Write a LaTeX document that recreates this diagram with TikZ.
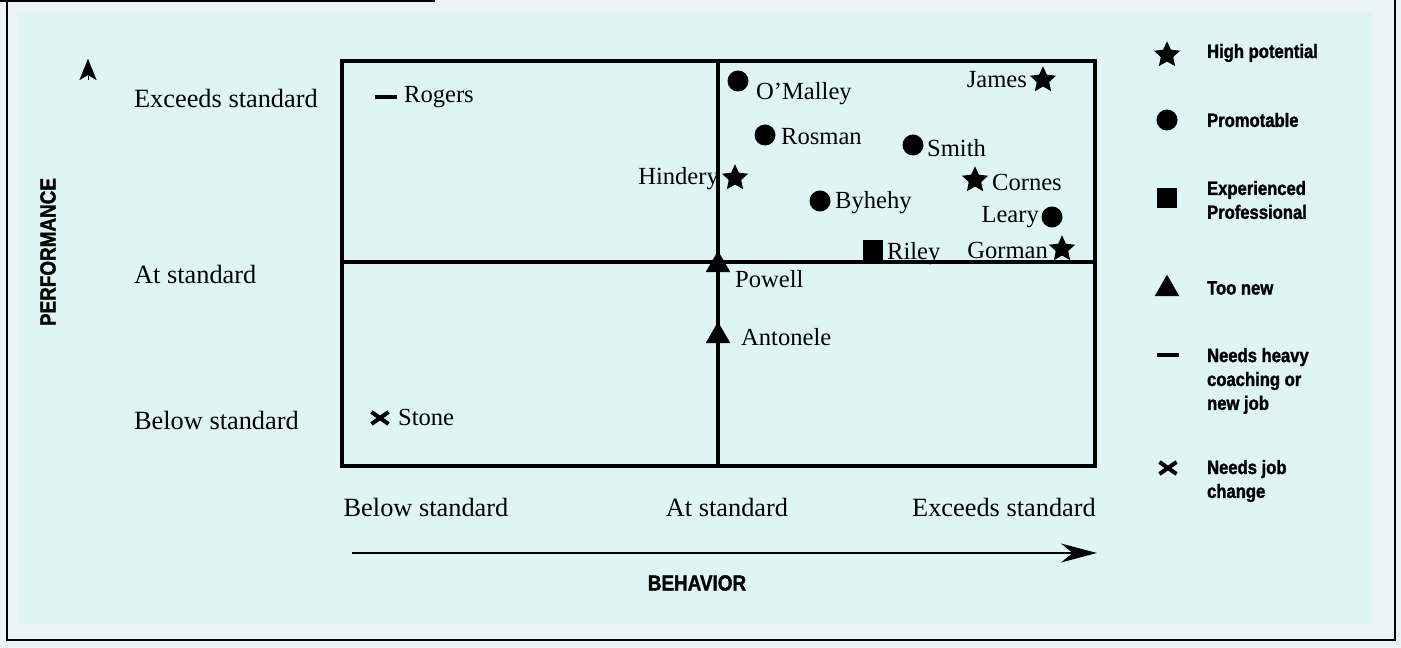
\documentclass[tikz,border=0pt]{standalone}
\usepackage{fontspec}
\setmainfont{Liberation Serif}
\newfontfamily\headfont{Liberation Sans}[FakeStretch=0.86, BoldFeatures={FakeBold=1.5}]
\usetikzlibrary{shapes.geometric,shapes.misc,arrows.meta}

\definecolor{panel}{HTML}{DFF4F4}
\definecolor{strip}{HTML}{EAF4F6}

\tikzset{
  staff/.style={font=\fontsize{14}{16}\selectfont, inner sep=1pt},
  lab/.style={font=\fontsize{15}{18}\selectfont, inner sep=1pt},
  legtext/.style={font=\headfont\bfseries\fontsize{11}{13.6}\selectfont, align=left, inner sep=1pt, anchor=west},
  head/.style={font=\headfont\bfseries\fontsize{12.5}{14}\selectfont, inner sep=1pt},
  hipot/.style={star, star points=5, star point ratio=2.1, fill=black, inner sep=0pt, minimum size=0.55cm},
  promo/.style={circle, fill=black, inner sep=0pt, minimum size=0.42cm},
  expro/.style={rectangle, fill=black, inner sep=0pt, minimum size=0.4cm},
  toonew/.style={regular polygon, regular polygon sides=3, fill=black, inner sep=0pt, minimum size=0.57cm},
  coach/.style={rectangle, fill=black, inner sep=0pt, minimum width=0.45cm, minimum height=0.09cm},
  jobchg/.style={cross out, draw=black, line width=2.3pt, inner sep=0pt, minimum width=0.26cm, minimum height=0.16cm}
}

\begin{document}
\begin{tikzpicture}[x=0.02cm, y=-0.02cm]
      \useasboundingbox (0,0) rectangle (1401,648);
      % page background and frame
      \fill[strip] (0,0) rectangle (1401,648);
      \fill[panel] (17,12) rectangle (1372,625);
      \draw[line width=1.3pt] (0,1) -- (435,1);
      \draw[line width=1.3pt] (7,0) -- (7,640) -- (1395,640) -- (1395,0);
      % the grid
      \draw[line width=2pt] (342,61) rectangle (1095,466);
      \draw[line width=2pt] (342,262) -- (1095,262);
      \draw[line width=2pt] (718,61) -- (718,466);
      % axis labels
      \node[lab, anchor=west] (rowhi) at (132,98) {Exceeds standard};
      \node[lab, anchor=west] (rowat) at (132,274) {At standard};
      \node[lab, anchor=west] (rowlo) at (132,420) {Below standard};
      \node[lab] (collo) at (426,507) {Below standard};
      \node[lab] (colat) at (727,507) {At standard};
      \node[lab] (colhi) at (1004,507) {Exceeds standard};
      \node[head, rotate=90] (perf) at (48,252) {PERFORMANCE};
      \node[head] (behav) at (697,583) {BEHAVIOR};
      % axis arrows
      \coordinate (pbase) at (88,80);
      \coordinate (ptip) at (88,59);
      \draw[-{Stealth[length=0.42cm, width=0.34cm, inset=0.1cm]}, line width=0.1pt] (pbase) -- (ptip);
      \coordinate (bstart) at (352,553);
      \coordinate (bend) at (1097,553);
      \draw[-{Stealth[length=0.72cm, width=0.38cm]}, line width=0.8pt] (bstart) -- (bend);
      % people
      \node[coach] (rogers) at (386,97) {};
      \node[staff, anchor=west] (rogersT) at (402,97) {Rogers};
      \node[promo] (omalley) at (738,81) {};
      \node[staff, anchor=west] (omalleyT) at (754,94) {O’Malley};
      \node[hipot] (james) at (1043,80) {};
      \node[staff, anchor=east] (jamesT) at (1029,80) {James};
      \node[promo] (rosman) at (765,135) {};
      \node[staff, anchor=west] (rosmanT) at (779,137) {Rosman};
      \node[promo] (smith) at (913,145) {};
      \node[staff, anchor=west] (smithT) at (925,148) {Smith};
      \node[hipot] (hindery) at (735,178) {};
      \node[staff, anchor=east] (hinderyT) at (721,179) {Hindery};
      \node[hipot] (cornes) at (975,180) {};
      \node[staff, anchor=west] (cornesT) at (990,182) {Cornes};
      \node[promo] (byhehy) at (820,201) {};
      \node[staff, anchor=west] (byhehyT) at (833,203) {Byhehy};
      \node[promo] (leary) at (1052,217) {};
      \node[staff, anchor=east] (learyT) at (1041,217) {Leary};
      \node[expro] (riley) at (873,250) {};
      \node[staff, anchor=west] (rileyT) at (885,254) {Riley};
      \node[hipot] (gorman) at (1062,249) {};
      \node[staff, anchor=east] (gormanT) at (1050,250) {Gorman};
      \node[toonew] (powell) at (718,265) {};
      \node[staff, anchor=west] (powellT) at (733,279) {Powell};
      \node[toonew] (antonele) at (718,336) {};
      \node[staff, anchor=west] (antoneleT) at (739,337) {Antonele};
      \node[jobchg] (stone) at (380,418) {};
      \node[staff, anchor=west] (stoneT) at (396,417) {Stone};
      % legend
      \node[hipot] (keyhi) at (1167,55) {};
      \node[legtext] (keyhiT) at (1205,53) {High potential};
      \node[promo] (keypr) at (1167,120) {};
      \node[legtext] (keyprT) at (1205,120) {Promotable};
      \node[expro] (keyex) at (1167,198) {};
      \node[legtext] (keyexT) at (1205,200) {Experienced\\Professional};
      \node[toonew] (keynew) at (1167,289) {};
      \node[legtext] (keynewT) at (1205,288) {Too new};
      \node[coach] (keyco) at (1168,355) {};
      \node[legtext] (keycoT) at (1205,381) {Needs heavy\\coaching or\\new job};
      \node[jobchg] (keyjc) at (1168,468) {};
      \node[legtext] (keyjcT) at (1205,481) {Needs job\\change};
    \end{tikzpicture}
\end{document}
